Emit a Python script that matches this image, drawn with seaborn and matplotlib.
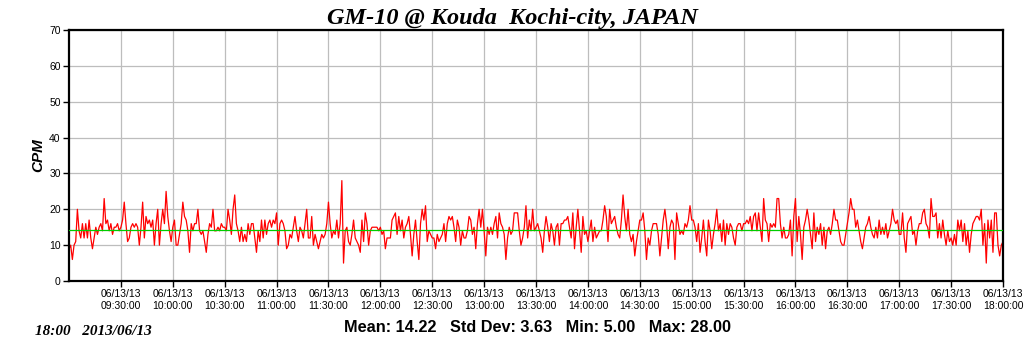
import matplotlib
matplotlib.use("Agg")
import matplotlib.pyplot as plt
import matplotlib.dates as mdates
import seaborn as sns
import pandas as pd
import numpy as np

# CPM readings left to right (09:00 -> 18:00)
cpm = [
    9, 10, 6, 10, 11, 20, 14, 12, 16, 12, 16, 12, 17, 12, 9, 12, 15, 13, 15, 16, 14, 23,
    16, 17, 14, 16, 13, 15, 15, 16, 14, 15, 17, 22, 16, 11, 12, 15, 16, 15, 16, 15, 10,
    15, 22, 12, 18, 16, 17, 15, 17, 10, 16, 20, 10, 16, 20, 16, 25, 18, 14, 11, 15, 17, 10,
    10, 13, 16, 22, 18, 17, 14, 8, 16, 14, 16, 16, 20, 14, 13, 14, 11, 8, 13, 16, 15, 20, 14, 14, 15,
    14, 16, 15, 15, 14, 20, 17, 13, 20, 24, 16, 14, 11, 15, 11, 13, 11, 16, 13, 16, 16, 12, 8,
    14, 11, 17, 12, 17, 13, 16, 17, 15, 17, 16, 19, 10, 16, 17, 16, 14, 9, 10, 13, 12, 15, 18, 14,
    11, 15, 14, 12, 16, 20, 12, 12, 18, 10, 13, 11, 9, 11, 13, 12, 13, 16, 22, 16, 12, 14, 13,
    17, 12, 16, 28, 5, 14, 15, 11, 10, 13, 17, 12, 11, 10, 8, 17, 11, 19, 16, 10, 14, 15, 15,
    15, 15, 14, 15, 13, 14, 9, 12, 12, 12, 17, 18, 19, 13, 18, 14, 17, 12, 15, 16, 18, 13, 7,
    13, 17, 11, 6, 16, 20, 17, 21, 11, 14, 13, 12, 12, 9, 13, 11, 12, 13, 16, 11, 16, 18, 17, 18,
    15, 11, 17, 15, 10, 14, 12, 12, 14, 18, 17, 13, 15, 9, 16, 20, 15, 20, 14, 7, 15, 13, 15,
    13, 16, 18, 12, 19, 16, 15, 13, 6, 12, 15, 13, 14, 19, 19, 19, 14, 10, 12, 15, 21, 12, 17, 14,
    20, 14, 15, 16, 14, 12, 8, 14, 18, 15, 11, 16, 14, 10, 15, 16, 10, 16, 16, 17, 17, 18, 15,
    12, 19, 9, 15, 20, 14, 8, 18, 13, 14, 11, 14, 17, 11, 15, 12, 13, 14, 14, 17, 21, 18, 11, 20, 16,
    17, 18, 15, 13, 12, 17, 24, 18, 14, 20, 13, 11, 13, 7, 11, 14, 17, 17, 19, 14, 6, 12, 10,
    14, 16, 16, 16, 13, 7, 12, 17, 20, 16, 9, 15, 17, 16, 6, 19, 16, 13, 14, 13, 16, 15, 17, 21, 17,
    17, 15, 11, 16, 8, 12, 17, 11, 7, 17, 14, 9, 13, 16, 20, 14, 16, 11, 17, 10, 16, 13, 16,
    15, 12, 10, 15, 16, 16, 14, 16, 16, 17, 16, 18, 14, 18, 19, 14, 19, 15, 11, 23, 17, 16, 11, 16, 15,
    16, 15, 23, 23, 16, 12, 15, 12, 12, 13, 17, 7, 18, 23, 11, 18, 13, 6, 15, 17, 20, 17, 13,
    9, 19, 11, 15, 13, 16, 10, 15, 9, 14, 15, 13, 16, 20, 17, 17, 14, 11, 10, 10, 13, 16, 19, 23, 20,
    20, 15, 17, 14, 11, 9, 12, 15, 16, 18, 15, 13, 12, 15, 12, 17, 13, 15, 13, 16, 12, 14, 16,
    20, 17, 16, 17, 13, 13, 19, 12, 8, 16, 17, 18, 13, 14, 10, 14, 16, 16, 19, 20, 16, 15, 12, 23, 18,
    18, 19, 12, 16, 12, 17, 13, 10, 14, 11, 12, 10, 13, 10, 17, 14, 17, 11, 16, 10, 14,
    8, 13, 16, 17, 18, 18, 17, 20, 10, 16, 5, 17, 12, 17, 8, 19, 19, 10, 7, 10, 11,
]
start_time = "2013-06-13 09:00:00"
end_time = "2013-06-13 18:00:00"
mean_cpm = 14.22
std_cpm = 3.63
min_cpm = 5.00
max_cpm = 28.00

df = pd.DataFrame({
    "time": pd.date_range(start_time, end_time, periods=len(cpm)),
    "cpm": cpm,
})

sns.set_style("white")
plt.rcParams["font.family"] = ["Liberation Sans", "DejaVu Sans"]
plt.rcParams["text.color"] = "black"
plt.rcParams["axes.labelcolor"] = "black"
plt.rcParams["xtick.color"] = "black"
plt.rcParams["ytick.color"] = "black"

fig = plt.figure(figsize=(10.24, 3.51), dpi=100)
ax = fig.add_axes([0.0674, 0.1994, 0.9121, 0.7151])

sns.lineplot(data=df, x="time", y="cpm", color="#ff0000", linewidth=0.9, ax=ax)
ax.axhline(mean_cpm, color="#00cc00", linewidth=0.9, zorder=3)

ax.set_xlim(pd.Timestamp(start_time), pd.Timestamp(end_time))
ax.set_ylim(0, 70)
ax.set_yticks(range(0, 71, 10))
ax.set_xticks(pd.date_range("2013-06-13 09:30:00", end_time, freq="30min"))
ax.xaxis.set_major_formatter(mdates.DateFormatter("%m/%d/%y\n%H:%M:%S"))
ax.tick_params(axis="both", labelsize=7.5, length=4, width=1, color="black", direction="out",
               bottom=True, left=True, pad=2)
ax.grid(True, color="#bdbdbd", linewidth=0.9)
for s in ax.spines.values():
    s.set_color("black")
    s.set_linewidth(1.6)

ax.set_xlabel("")
ax.set_ylabel("CPM", fontsize=11, fontweight="bold", fontstyle="italic", labelpad=3)

fig.text(0.5, 0.948, "GM-10 @ Kouda  Kochi-city, JAPAN", ha="center", va="center",
         family="Liberation Serif", fontsize=17.5, fontweight="bold", fontstyle="italic")
fig.text(0.034, 0.055, "18:00   2013/06/13", ha="left", va="center",
         family="Liberation Serif", fontsize=11, fontweight="bold", fontstyle="italic")
fig.text(0.525, 0.068,
         f"Mean: {mean_cpm:.2f}   Std Dev: {std_cpm:.2f}   Min: {min_cpm:.2f}   Max: {max_cpm:.2f}",
         ha="center", va="center", fontsize=11.7, fontweight="bold")

fig.savefig("out.png", dpi=100)
plt.close(fig)
